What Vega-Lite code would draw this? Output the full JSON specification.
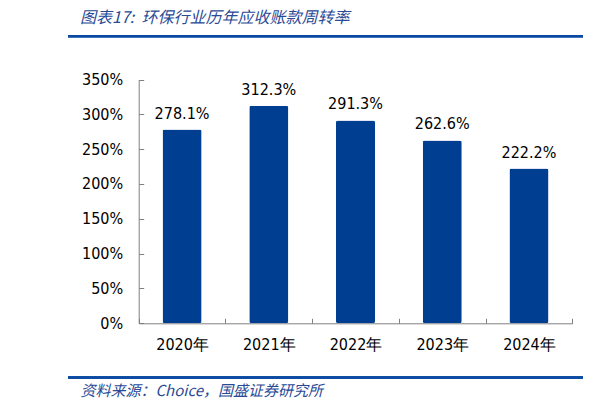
{
  "$schema": "https://vega.github.io/schema/vega-lite/v6.json",
  "autosize": {"type": "none"},
  "width": 515,
  "height": 355,
  "padding": {"left": 68, "top": 30, "right": 28, "bottom": 25},
  "background": "white",
  "title": {
    "text": "图表17:\u00a0\u00a0环保行业历年应收账款周转率",
    "anchor": "start",
    "frame": "group",
    "dx": 12,
    "offset": 4,
    "font": "Noto Sans CJK SC",
    "fontSize": 16,
    "fontStyle": "italic",
    "fontWeight": "normal",
    "color": "#2A4A96"
  },
  "data": {
    "values": [
      {"year": "2020年", "value": 2.781},
      {"year": "2021年", "value": 3.123},
      {"year": "2022年", "value": 2.913},
      {"year": "2023年", "value": 2.626},
      {"year": "2024年", "value": 2.222}
    ]
  },
  "layer": [
    {
      "mark": {"type": "bar", "color": "#003E92", "cornerRadius": 2, "width": {"band": 0.45}},
      "encoding": {
        "x": {
          "field": "year",
          "type": "nominal",
          "sort": null,
          "scale": {"range": [70.7, 504.3], "paddingInner": 0, "paddingOuter": 0},
          "axis": {
            "title": "资料来源：Choice，国盛证券研究所",
            "titleFont": "Noto Sans CJK SC",
            "titleFontStyle": "italic",
            "titleFontWeight": "normal",
            "titleFontSize": 15,
            "titleColor": "#2A4A96",
            "titleAnchor": "start",
            "titleAlign": "left",
            "titleBaseline": "middle",
            "titleX": 12,
            "titleY": 67,
            "labelAngle": 0,
            "labelFont": "DejaVu Sans Condensed, DejaVu Sans",
            "labelFontSize": 16,
            "labelColor": "#000000",
            "labelPadding": 18,
            "tickSize": -5,
            "tickBand": "extent",
            "tickColor": "#808080",
            "domainColor": "#808080",
            "offset": -61.7
          }
        },
        "y": {
          "field": "value",
          "type": "quantitative",
          "scale": {"domain": [0, 3.5], "range": [293.3, 49.5], "nice": false},
          "axis": {
            "title": null,
            "format": ".0%",
            "values": [0, 0.5, 1, 1.5, 2, 2.5, 3, 3.5],
            "grid": false,
            "labelFont": "DejaVu Sans Condensed, DejaVu Sans",
            "labelFontSize": 16,
            "labelColor": "#000000",
            "labelPadding": 21,
            "tickSize": -5,
            "tickColor": "#808080",
            "domainColor": "#808080",
            "offset": -70.7
          }
        }
      }
    },
    {
      "mark": {"type": "text", "font": "DejaVu Sans Condensed, DejaVu Sans", "fontSize": 16, "color": "#000000", "baseline": "alphabetic", "dy": -11},
      "encoding": {
        "x": {"field": "year", "type": "nominal", "sort": null},
        "y": {"field": "value", "type": "quantitative"},
        "text": {"field": "value", "type": "quantitative", "format": ".1%"}
      }
    },
    {
      "mark": {"type": "rule", "color": "#0B4AA2", "strokeWidth": 2},
      "encoding": {"y": {"datum": 4.12, "type": "quantitative"}}
    },
    {
      "mark": {"type": "rule", "color": "#0B4AA2", "strokeWidth": 2},
      "encoding": {"y": {"datum": -0.778, "type": "quantitative"}}
    }
  ],
  "config": {"view": {"stroke": null}}
}
